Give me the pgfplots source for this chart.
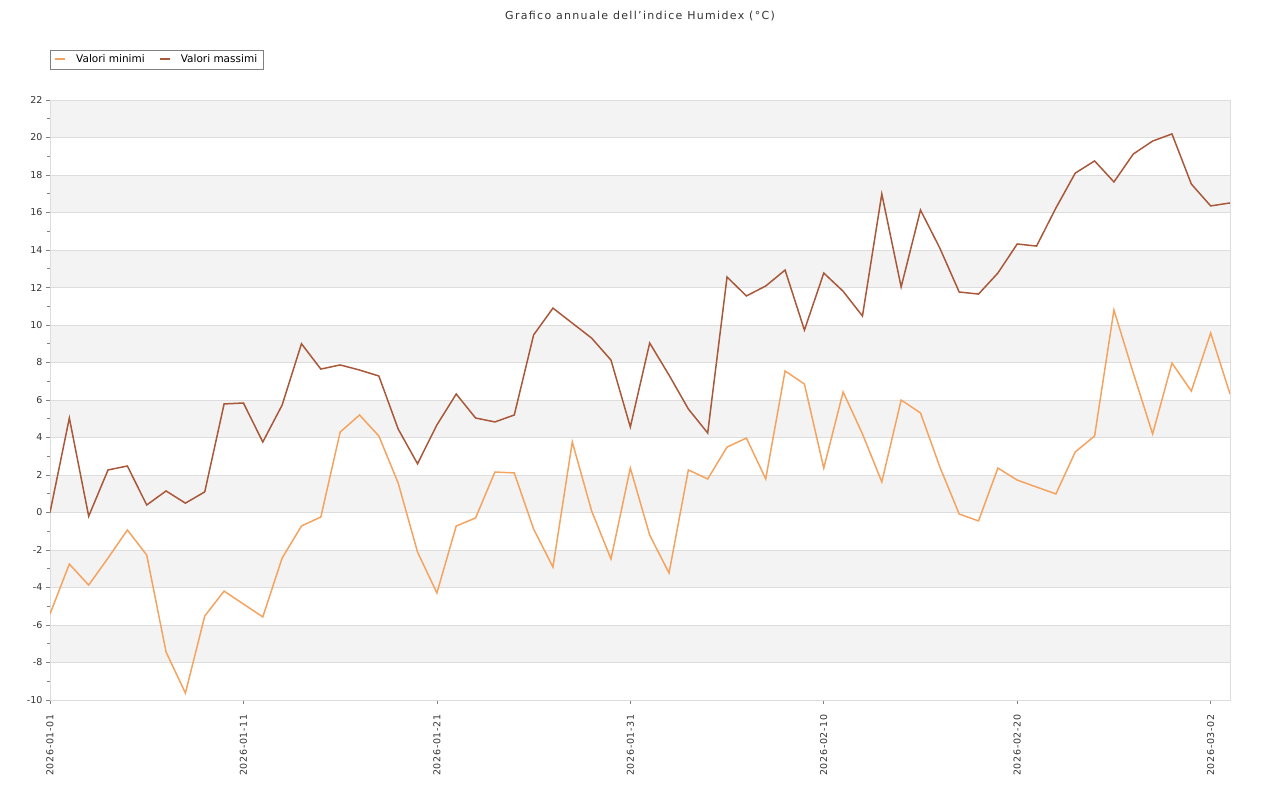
\documentclass[border=0pt]{standalone}
\usepackage{fontspec}
\setmainfont{DejaVu Sans}
\usepackage{pgfplots}
\pgfplotsset{compat=1.18}
\definecolor{minc}{HTML}{F4A460}
\definecolor{maxc}{HTML}{A9583A}
\definecolor{band}{HTML}{F3F3F3}
\definecolor{gridc}{HTML}{DDDDDD}
\definecolor{txt}{HTML}{333333}
\begin{document}
\begin{tikzpicture}
\begin{axis}[
  scale only axis, width=1180pt, height=600pt,
  xmin=0, xmax=61, ymin=-10, ymax=22,
  axis line style={draw=gridc},
  xtick pos=bottom, ytick pos=left,
  ytick={-10,-8,...,22},
  minor ytick={-9,-7,...,21},
  ymajorgrids, grid style={draw=gridc, line width=0.6pt},
  major tick length=4pt, minor tick length=3pt,
  tick align=outside,
  tick style={draw=gray, line width=0.6pt},
  minor tick style={draw=gray},
  xtick={0,10,20,30,40,50,60},
  xticklabels={2026-01-01,2026-01-11,2026-01-21,2026-01-31,2026-02-10,2026-02-20,2026-03-02},
  x tick label style={yshift=-7pt, rotate=90, anchor=east, font=\fontsize{9.5}{11}\selectfont\addfontfeature{LetterSpace=7}, text=txt},
  y tick label style={font=\fontsize{9.5}{11}\selectfont, text=txt},
  /pgf/number format/assume math mode=true,
  yticklabel style={/pgf/number format/fixed},
  legend style={at={(0,1)}, anchor=south west, yshift=31pt, legend columns=2, draw=gray, font=\fontsize{10.5}{12}\selectfont, inner xsep=4pt, inner ysep=2.5pt,
    /tikz/every odd column/.append style={column sep=8pt},
    /tikz/every even column/.append style={column sep=12pt}},
  legend image code/.code={\draw[#1, line width=2pt] (0pt,0.5pt) -- (10pt,0.5pt);},
  clip=true,
  set layers,
]
\begin{pgfonlayer}{axis background}
\fill[band] (axis cs:0,20) rectangle (axis cs:61,22);
\fill[band] (axis cs:0,16) rectangle (axis cs:61,18);
\fill[band] (axis cs:0,12) rectangle (axis cs:61,14);
\fill[band] (axis cs:0,8) rectangle (axis cs:61,10);
\fill[band] (axis cs:0,4) rectangle (axis cs:61,6);
\fill[band] (axis cs:0,0) rectangle (axis cs:61,2);
\fill[band] (axis cs:0,-4) rectangle (axis cs:61,-2);
\fill[band] (axis cs:0,-8) rectangle (axis cs:61,-6);
\end{pgfonlayer}
\addplot[minc, line width=1.5pt, no markers] coordinates {
(0,-5.41)(1,-2.75)(2,-3.87)(3,-2.43)(4,-0.93)(5,-2.27)(6,-7.44)(7,-9.63)(8,-5.52)(9,-4.19)
(10,-4.88)(11,-5.57)(12,-2.43)(13,-0.72)(14,-0.24)(15,4.29)(16,5.2)(17,4.08)(18,1.57)(19,-2.11)
(20,-4.29)(21,-0.72)(22,-0.29)(23,2.16)(24,2.11)(25,-0.88)(26,-2.91)(27,3.76)(28,0.08)(29,-2.48)
(30,2.37)(31,-1.2)(32,-3.23)(33,2.27)(34,1.79)(35,3.49)(36,3.97)(37,1.79)(38,7.55)(39,6.85)
(40,2.37)(41,6.43)(42,4.19)(43,1.63)(44,6.0)(45,5.31)(46,2.43)(47,-0.08)(48,-0.45)(49,2.37)
(50,1.73)(51,1.36)(52,0.99)(53,3.23)(54,4.08)(55,10.8)(56,7.44)(57,4.19)(58,7.97)(59,6.48)
(60,9.57)(61,6.32)};
\addlegendentry{Valori minimi}
\addplot[maxc, line width=1.5pt, no markers] coordinates {
(0,0.0)(1,5.04)(2,-0.2)(3,2.27)(4,2.48)(5,0.4)(6,1.15)(7,0.5)(8,1.1)(9,5.79)
(10,5.84)(11,3.76)(12,5.73)(13,9.0)(14,7.65)(15,7.87)(16,7.6)(17,7.28)(18,4.45)(19,2.6)
(20,4.67)(21,6.32)(22,5.04)(23,4.83)(24,5.2)(25,9.47)(26,10.9)(27,10.1)(28,9.3)(29,8.13)
(30,4.56)(31,9.04)(32,7.33)(33,5.52)(34,4.24)(35,12.56)(36,11.55)(37,12.08)(38,12.93)(39,9.73)
(40,12.77)(41,11.8)(42,10.48)(43,16.99)(44,12.03)(45,16.13)(46,14.1)(47,11.76)(48,11.65)(49,12.77)
(50,14.32)(51,14.21)(52,16.24)(53,18.1)(54,18.75)(55,17.63)(56,19.12)(57,19.81)(58,20.19)(59,17.52)
(60,16.35)(61,16.51)};
\addlegendentry{Valori massimi}
\end{axis}
\node[font=\fontsize{11}{13}\selectfont\addfontfeature{LetterSpace=12}, text=txt] at ([yshift=84pt]current axis.north) {Grafico annuale dell'indice Humidex (°C)};
\path[use as bounding box] ([shift={(-50pt,-100pt)}]current axis.south west) rectangle ([shift={(50pt,100pt)}]current axis.north east);
\end{tikzpicture}
\end{document}
